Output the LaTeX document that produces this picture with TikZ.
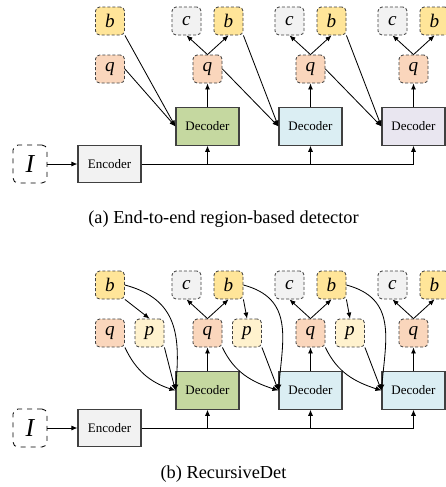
\documentclass[tikz,border=0pt]{standalone}
\usepackage{fontspec}
\setmainfont{Liberation Serif}
\usetikzlibrary{positioning,arrows.meta}

\definecolor{bfill}{RGB}{255,229,153}
\definecolor{qfill}{RGB}{250,214,188}
\definecolor{pfill}{RGB}{255,242,206}
\definecolor{cfill}{RGB}{242,242,242}
\definecolor{greenfill}{RGB}{197,216,160}
\definecolor{bluefill}{RGB}{219,238,243}
\definecolor{lilacfill}{RGB}{233,230,240}
\definecolor{edge}{RGB}{64,64,64}

\begin{document}
\begin{tikzpicture}[x=0.6pt, y=-0.6pt, on grid, node distance={28.8pt and 12.6pt}, line width=0.5pt, >={Latex[length=3.6pt,width=3pt]},
    token/.style = {draw=edge, dash pattern=on 1.8pt off 1.2pt, rounded corners=2.5pt, minimum width=17.4pt, minimum height=16.8pt, inner sep=0pt, font=\fontsize{11.5}{13}\selectfont\itshape},
    box/.style = {draw=edge, line width=0.7pt, minimum width=37.8pt, minimum height=22.4pt, inner sep=0pt, font=\fontsize{7.8}{9}\selectfont},
    caption/.style = {anchor=base, font=\fontsize{11}{13}\selectfont}]
    \useasboundingbox (0,0) rectangle (446,487);

    % (a) end-to-end detector
    \node[box, fill=cfill] (tenc) at (109.5,164) {Encoder};
    \node[token, solid, draw=black, dashed, fill=white, minimum width=20.4pt, minimum height=22.8pt, rounded corners=3pt, font=\fontsize{15.5}{18}\selectfont\itshape] (tI) [left=47.7pt of tenc] {I};
    \node[box, fill=greenfill] (tdec1) [above right=22.5pt and 58.8pt of tenc] {Decoder};
    \node[box, fill=bluefill] (tdec2) [right=61.8pt of tdec1] {Decoder};
    \node[box, fill=lilacfill] (tdec3) [right=61.8pt of tdec2] {Decoder};
    \node[token, fill=qfill] (tq2) [above=34.5pt of tdec1] {q};
    \node[token, fill=qfill] (tq3) [above=34.5pt of tdec2] {q};
    \node[token, fill=qfill] (tq4) [above=34.5pt of tdec3] {q};
    \node[token, fill=qfill] (tq1) [left=58.5pt of tq2] {q};
    \node[token, fill=bfill] (tb1) [above=of tq1] {b};
    \node[token, fill=cfill] (tc2) [above left=of tq2] {c};
    \node[token, fill=bfill] (tb2) [above right=of tq2] {b};
    \node[token, fill=cfill] (tc3) [above left=of tq3] {c};
    \node[token, fill=bfill] (tb3) [above right=of tq3] {b};
    \node[token, fill=cfill] (tc4) [above left=of tq4] {c};
    \node[token, fill=bfill] (tb4) [above right=of tq4] {b};

    \draw[->] (tI) -- (tenc);
    \draw[->] (tenc.east) -| (tdec3.south);
    \draw[->] (tenc -| tdec1) -- (tdec1.south);
    \draw[->] (tenc -| tdec2) -- (tdec2.south);
    \draw[->] (tb1.south east) -- (tdec1.west);
    \draw[->] (tq1.east) -- (tdec1.west);
    \draw[->] (tb2.south east) -- (tdec2.west);
    \draw[->] (tq2.east) -- (tdec2.west);
    \draw[->] (tb3.south east) -- (tdec3.west);
    \draw[->] (tq3.east) -- (tdec3.west);
    \draw[->] (tdec1) -- (tq2);
    \draw[->] (tdec2) -- (tq3);
    \draw[->] (tdec3) -- (tq4);
    \draw[->] (tq2.north) -- (tc2.south);
    \draw[->] (tq2.north) -- (tb2.south);
    \draw[->] (tq3.north) -- (tc3.south);
    \draw[->] (tq3.north) -- (tb3.south);
    \draw[->] (tq4.north) -- (tc4.south);
    \draw[->] (tq4.north) -- (tb4.south);

    \node[caption] (capa) at (223.5,223) {(a) End-to-end region-based detector};

    % (b) RecursiveDet
    \node[box, fill=cfill] (renc) at (109.5,428) {Encoder};
    \node[token, solid, draw=black, dashed, fill=white, minimum width=20.4pt, minimum height=22.8pt, rounded corners=3pt, font=\fontsize{15.5}{18}\selectfont\itshape] (rI) [left=47.7pt of renc] {I};
    \node[box, fill=greenfill] (rdec1) [above right=22.5pt and 58.8pt of renc] {Decoder};
    \node[box, fill=bluefill] (rdec2) [right=61.8pt of rdec1] {Decoder};
    \node[box, fill=bluefill] (rdec3) [right=61.8pt of rdec2] {Decoder};
    \node[token, fill=qfill] (rq2) [above=34.5pt of rdec1] {q};
    \node[token, fill=qfill] (rq3) [above=34.5pt of rdec2] {q};
    \node[token, fill=qfill] (rq4) [above=34.5pt of rdec3] {q};
    \node[token, fill=qfill] (rq1) [left=58.5pt of rq2] {q};
    \node[token, fill=pfill] (rp1) [right=23.7pt of rq1] {p};
    \node[token, fill=pfill] (rp2) [right=23.7pt of rq2] {p};
    \node[token, fill=pfill] (rp3) [right=23.7pt of rq3] {p};
    \node[token, fill=bfill] (rb1) [above=of rq1] {b};
    \node[token, fill=cfill] (rc2) [above left=of rq2] {c};
    \node[token, fill=bfill] (rb2) [above right=of rq2] {b};
    \node[token, fill=cfill] (rc3) [above left=of rq3] {c};
    \node[token, fill=bfill] (rb3) [above right=of rq3] {b};
    \node[token, fill=cfill] (rc4) [above left=of rq4] {c};
    \node[token, fill=bfill] (rb4) [above right=of rq4] {b};

    \draw[->] (rI) -- (renc);
    \draw[->] (renc.east) -| (rdec3.south);
    \draw[->] (renc -| rdec1) -- (rdec1.south);
    \draw[->] (renc -| rdec2) -- (rdec2.south);
    \draw[->] (rb1.south east) -- (rp1.north);
    \draw[->] (rb1.east) to[out=-15, in=85, looseness=1.2] (rdec1.west);
    \draw[->] (rq1.south east) to[out=-65, in=162] (rdec1.west);
    \draw[->] (rp1.south east) -- (rdec1.west);
    \draw[->] (rb2.south east) -- (rp2.north);
    \draw[->] (rb2.east) to[out=-15, in=85, looseness=1.2] (rdec2.west);
    \draw[->] (rq2.south east) to[out=-65, in=162] (rdec2.west);
    \draw[->] (rp2.south east) -- (rdec2.west);
    \draw[->] (rb3.south east) -- (rp3.north);
    \draw[->] (rb3.east) to[out=-15, in=85, looseness=1.2] (rdec3.west);
    \draw[->] (rq3.south east) to[out=-65, in=162] (rdec3.west);
    \draw[->] (rp3.south east) -- (rdec3.west);
    \draw[->] (rdec1) -- (rq2);
    \draw[->] (rdec2) -- (rq3);
    \draw[->] (rdec3) -- (rq4);
    \draw[->] (rq2.north) -- (rc2.south);
    \draw[->] (rq2.north) -- (rb2.south);
    \draw[->] (rq3.north) -- (rc3.south);
    \draw[->] (rq3.north) -- (rb3.south);
    \draw[->] (rq4.north) -- (rc4.south);
    \draw[->] (rq4.north) -- (rb4.south);

    \node[caption] (capb) at (223.5,478) {(b) RecursiveDet};
\end{tikzpicture}
\end{document}
